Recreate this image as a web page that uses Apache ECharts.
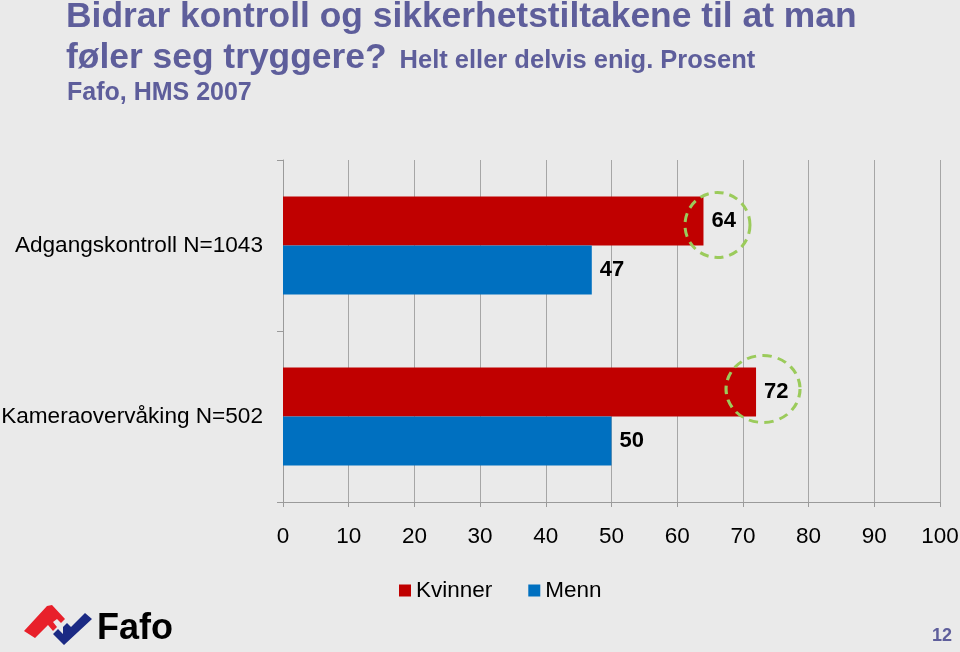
<!DOCTYPE html>
<html>
<head>
<meta charset="utf-8">
<script src="https://cdn.jsdelivr.net/npm/echarts@6/dist/echarts.min.js"></script>
<style>
html,body{margin:0;padding:0;background:#EAEAEA;}
#c{width:960px;height:652px;}
</style>
</head>
<body>
<div id="c"></div>
<script>
const categories = ['Adgangskontroll N=1043', 'Kameraovervåking N=502'];
const kvinner = [64, 72];
const menn = [47, 50];
const xTicks = [0, 10, 20, 30, 40, 50, 60, 70, 80, 90, 100];
const seriesNames = ['Kvinner', 'Menn'];

const FONT = 'Arial, "Liberation Sans", sans-serif';
const TITLE_COLOR = '#5E5E9B';
const GREEN = '#9BCB5B';

const chart = echarts.init(document.getElementById('c'), null, {renderer: 'canvas'});
chart.setOption({
  backgroundColor: '#EAEAEA',
  animation: false,
  textStyle: {fontFamily: FONT},
  title: [
    {text: 'Bidrar kontroll og sikkerhetstiltakene til at man', left: 61, top: -5,
     textStyle: {fontFamily: FONT, fontSize: 35.4, fontWeight: 'bold', color: TITLE_COLOR}},
    {text: '{a|føler seg tryggere?}{b|Helt eller delvis enig. Prosent}', left: 61, top: 36,
     textStyle: {fontFamily: FONT, rich: {
       a: {fontFamily: FONT, fontSize: 35.4, fontWeight: 'bold', color: TITLE_COLOR},
       b: {fontFamily: FONT, fontSize: 25.5, fontWeight: 'bold', color: TITLE_COLOR, padding: [4, 0, 0, 13]}
     }}},
    {text: 'Fafo, HMS 2007', left: 62, top: 76,
     textStyle: {fontFamily: FONT, fontSize: 25, fontWeight: 'bold', color: TITLE_COLOR}},
    {text: '12', right: 3, bottom: 2,
     textStyle: {fontFamily: FONT, fontSize: 18, fontWeight: 'bold', color: TITLE_COLOR}},
    {text: 'Fafo', left: 92, top: 606,
     textStyle: {fontFamily: FONT, fontSize: 36, fontWeight: 'bold', color: '#000'}}
  ],
  grid: {left: 283, right: 20, top: 160, bottom: 150, containLabel: false, outerBoundsMode: 'none'},
  legend: {
    data: seriesNames,
    left: 394, top: 574,
    icon: 'rect', itemWidth: 12, itemHeight: 12, itemGap: 36,
    textStyle: {fontFamily: FONT, fontSize: 22.5, color: '#000'}
  },
  xAxis: {
    type: 'value', min: 0, max: 100, interval: 10,
    axisLine: {show: true, lineStyle: {color: '#9A9A9A', width: 1}},
    axisTick: {show: true, length: 5, lineStyle: {color: '#9A9A9A'}},
    axisLabel: {fontFamily: FONT, fontSize: 22.5, color: '#000', margin: 23,
      formatter: v => xTicks.includes(v) ? String(v) : ''},
    splitLine: {show: true, lineStyle: {color: '#A6A6A6', width: 1}}
  },
  yAxis: {
    type: 'category', data: categories, inverse: true,
    axisLine: {show: true, lineStyle: {color: '#9A9A9A', width: 1}},
    axisTick: {show: true, length: 6, lineStyle: {color: '#9A9A9A'}},
    axisLabel: {fontFamily: FONT, fontSize: 22.6, color: '#000', margin: 20}
  },
  series: [
    {
      name: seriesNames[0], type: 'bar', data: kvinner, barWidth: 49, barGap: '0%',
      itemStyle: {color: '#C00000'},
      label: {show: true, position: 'right', distance: 8, fontFamily: FONT, fontSize: 22, fontWeight: 'bold', color: '#000'},
      markPoint: {
        symbol: 'circle',
        label: {show: false},
        itemStyle: {color: 'rgba(0,0,0,0)', borderColor: GREEN, borderWidth: 3, borderType: [9, 6]},
        data: [
          {coord: [kvinner[0], categories[0]], symbolSize: [65, 65], symbolOffset: [14, 4]},
          {coord: [kvinner[1], categories[1]], symbolSize: [74, 67], symbolOffset: [7, -3]}
        ]
      }
    },
    {
      name: seriesNames[1], type: 'bar', data: menn, barWidth: 49, barGap: '0%',
      itemStyle: {color: '#0070C0'},
      label: {show: true, position: 'right', distance: 8, fontFamily: FONT, fontSize: 22, fontWeight: 'bold', color: '#000'}
    }
  ],
  graphic: [
    {type: 'polygon', shape: {points: [[24,631],[47,606],[52,605],[65,619],[61,623],[57,619],[53,622],[57,627],[53,631],[48,625],[35,638]]},
     style: {fill: '#E8202A'}},
    {type: 'polygon', shape: {points: [[53,634],[58,629],[63,634],[63,627],[67,623],[71,627],[67,631],[85,613],[92,619],[64,645]]},
     style: {fill: '#1B2A84'}}
  ]
});
</script>
</body>
</html>
